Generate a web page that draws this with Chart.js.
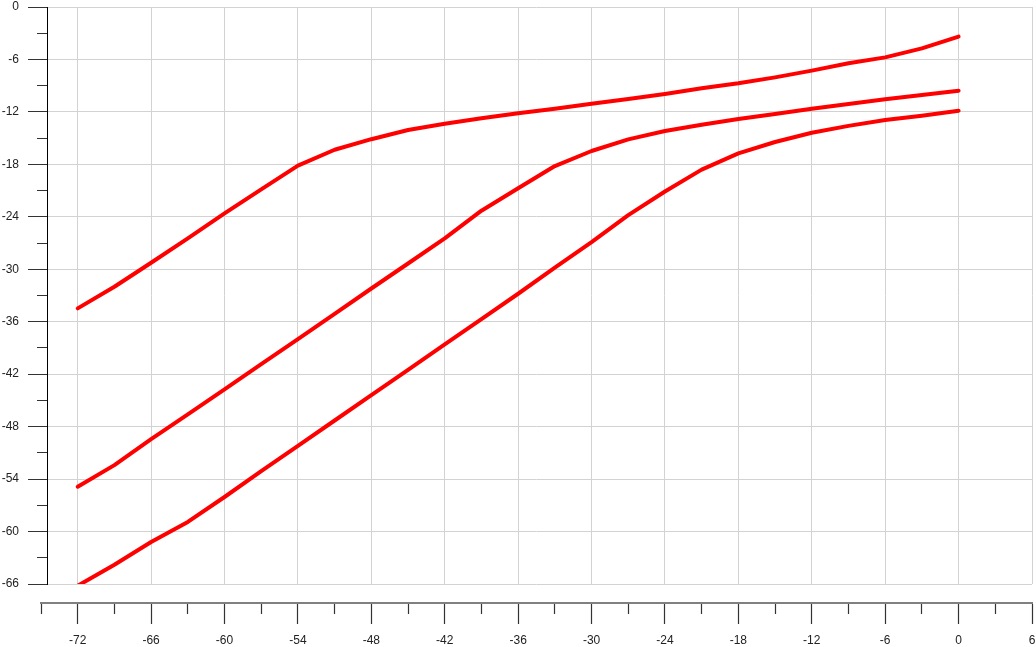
<!DOCTYPE html>
<html><head><meta charset="utf-8">
<script src="https://cdn.jsdelivr.net/npm/chart.js@4.4.0/dist/chart.umd.min.js"></script>
<style>html,body{margin:0;padding:0;background:#fff}</style>
</head><body>
<canvas id="c" width="1036" height="647"></canvas>
<script>
const xValues = [-72,-69,-66,-63,-60,-57,-54,-51,-48,-45,-42,-39,-36,-33,-30,-27,-24,-21,-18,-15,-12,-9,-6,-3,0];
const seriesTop = [-34.47,-32.0,-29.25,-26.46,-23.6,-20.86,-18.15,-16.33,-15.12,-14.07,-13.35,-12.73,-12.16,-11.63,-11.06,-10.52,-9.95,-9.3,-8.73,-8.05,-7.28,-6.44,-5.76,-4.73,-3.39];
const seriesMid = [-54.87,-52.4,-49.43,-46.6,-43.74,-40.86,-37.98,-35.1,-32.2,-29.34,-26.47,-23.3,-20.74,-18.19,-16.47,-15.14,-14.19,-13.46,-12.81,-12.24,-11.63,-11.1,-10.56,-10.07,-9.57];
const seriesLow = [-66.2,-63.8,-61.2,-58.9,-56.05,-53.1,-50.2,-47.3,-44.4,-41.5,-38.6,-35.7,-32.8,-29.8,-26.9,-23.8,-21.1,-18.6,-16.74,-15.44,-14.38,-13.6,-12.93,-12.43,-11.86];
const xMajorTicks = [-72,-66,-60,-54,-48,-42,-36,-30,-24,-18,-12,-6,0,6];
const xMinorTicks = [-75,-69,-63,-57,-51,-45,-39,-33,-27,-21,-15,-9,-3,3];
const yMajorTicks = [0,-6,-12,-18,-24,-30,-36,-42,-48,-54,-60,-66];
const yMinorTicks = [-3,-9,-15,-21,-27,-33,-39,-45,-51,-57,-63];

const toPts = arr => xValues.map((x,i)=>({x:x,y:arr[i]}));
const isMajor = (list,v) => list.some(t=>Math.abs(t-v)<1e-9);
const font = {family:'"Liberation Sans", Arial, sans-serif', size:12};
const zeroPad = s => { s.paddingTop=0; s.paddingBottom=0; s.paddingLeft=0; s.paddingRight=0; };
const ds = (arr) => ({data:toPts(arr), yAxisID:'y', xAxisID:'x', borderColor:'#ff0000', borderWidth:4, pointRadius:0, tension:0, fill:false, borderJoinStyle:'round', borderCapStyle:'round'});

new Chart(document.getElementById('c'), {
  type:'line',
  data:{datasets:[ds(seriesTop), ds(seriesMid), ds(seriesLow)]},
  options:{
    responsive:false, animation:false, devicePixelRatio:1,
    layout:{padding:{left:0,right:4,top:7,bottom:63}},
    plugins:{legend:{display:false}, tooltip:{enabled:false}},
    scales:{
      x:{
        type:'linear', min:-75, max:6, position:{y:-68.2},
        afterBuildTicks: s => { s.ticks = xMajorTicks.concat(xMinorTicks).sort((a,b)=>a-b).map(v=>({value:v})); },
        afterFit: zeroPad,
        grid:{
          color: c => isMajor(xMajorTicks, c.tick.value) ? '#d2d2d2' : 'rgba(0,0,0,0)',
          lineWidth:1, tickLength:20, tickWidth:1.2, tickColor:'#333',
          tickBorderDash: c => isMajor(xMajorTicks, c.tick.value) ? [] : [10,100]
        },
        border:{display:true, color:'#808080', width:2},
        ticks:{autoSkip:false, maxRotation:0, font:font, color:'#222', padding:10,
          callback: v => isMajor(xMajorTicks, v) ? String(v) : ''}
      },
      y:{
        type:'linear', min:-66, max:0, position:{x:-74.43},
        afterBuildTicks: s => { s.ticks = yMajorTicks.concat(yMinorTicks).sort((a,b)=>a-b).map(v=>({value:v})); },
        afterFit: zeroPad,
        grid:{
          color: c => isMajor(yMajorTicks, c.tick.value) ? '#d2d2d2' : 'rgba(0,0,0,0)',
          lineWidth:1, tickLength:19, tickWidth:1, tickColor:'#333',
          tickBorderDash: c => isMajor(yMajorTicks, c.tick.value) ? [] : [10,100]
        },
        border:{display:true, color:'#000', width:1},
        ticks:{display:false}
      },
      yLabels:{
        type:'linear', min:-66, max:0, position:'left',
        afterBuildTicks: s => { s.ticks = yMajorTicks.map(v=>({value:v})); },
        afterFit: s => { zeroPad(s); s.width = 41; },
        grid:{display:false, drawOnChartArea:false, drawTicks:false},
        border:{display:false},
        ticks:{autoSkip:false, font:font, color:'#222', padding:22,
          callback: v => String(v)}
      }
    }
  }
});
</script>
</body></html>
